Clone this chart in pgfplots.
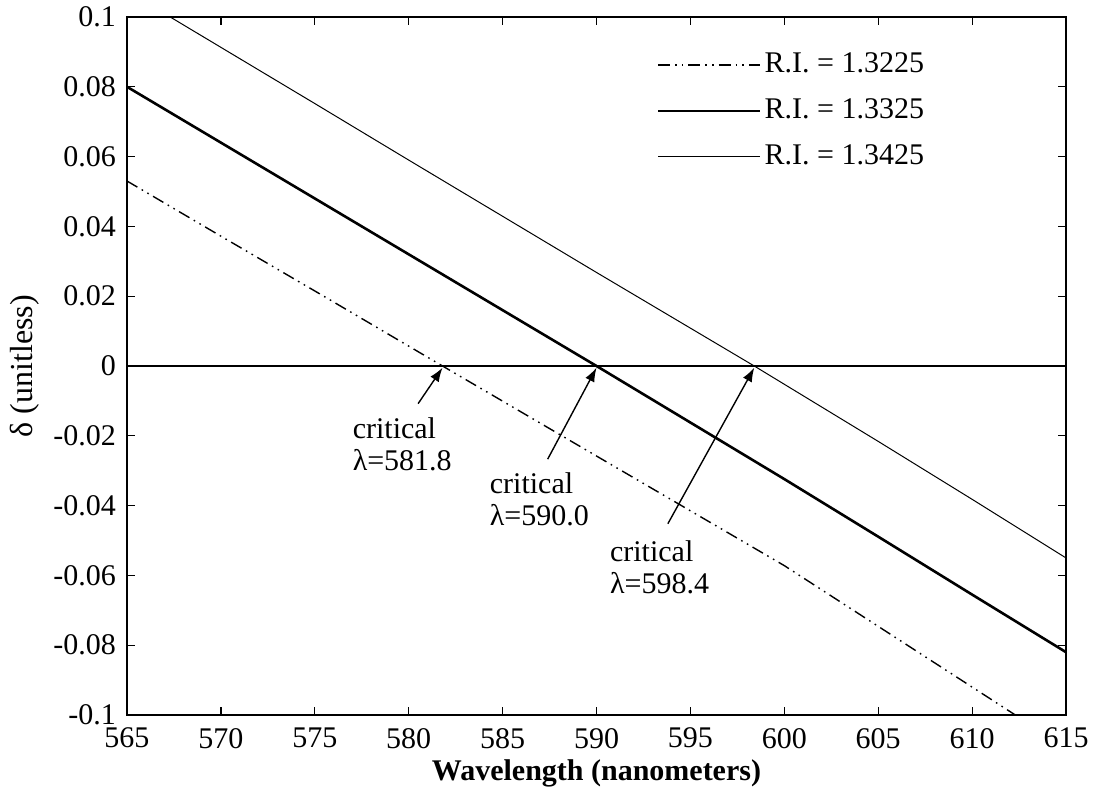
\documentclass[border=0pt]{standalone}
\usepackage{pgfplots}
\pgfplotsset{compat=1.18}
\usepackage{fontspec}
\setmainfont{Liberation Serif}
\usetikzlibrary{arrows.meta}

\begin{document}
\begin{tikzpicture}
\begin{axis}[
    scale only axis,
    width=469.5pt, height=349pt,
    xmin=565, xmax=615,
    ymin=-0.1, ymax=0.1,
    xtick={565,570,...,615},
    ytick={-0.1,-0.08,-0.06,-0.04,-0.02,0,0.02,0.04,0.06,0.08,0.1},
    yticklabels={-0.1,-0.08,-0.06,-0.04,-0.02,0,0.02,0.04,0.06,0.08,0.1},
    /pgf/number format/assume math mode=true,
    tick align=inside,
    tick style={black, line width=0.6pt},
    major tick length=4pt,
    axis line style={line width=0.9pt},
    tick label style={font=\fontsize{15}{17}\selectfont},
    xticklabel style={yshift=-3pt},
    yticklabel style={xshift=-2pt},
    xlabel={\textbf{Wavelength (nanometers)}},
    ylabel={δ (unitless)},
    xlabel style={font=\fontsize{15}{17}\selectfont, yshift=1pt},
    ylabel style={font=\fontsize{16}{18}\selectfont, yshift=0pt},
    legend style={draw=none, fill=none, at={(rel axis cs:0.564,0.952)}, anchor=north west,
                  font=\fontsize{15}{17}\selectfont, row sep=9pt,
                  inner sep=0pt, nodes={inner xsep=1.5pt, inner ysep=0pt, text height=11pt, text depth=3pt}},
    legend cell align=left,
    legend image code/.code={\draw[#1] (0pt,0pt) -- (51pt,0pt);},
]
\addplot[black, line width=0.7pt,
  dash pattern=on 6pt off 2.5pt on 0.8pt off 2.5pt on 0.8pt off 2.5pt] coordinates {
    (565,0.053) (570,0.0372) (575,0.0215) (581.8,0) (590,-0.0258) (600,-0.0572) (612.3,-0.1)
};
\addlegendentry{R.I. = 1.3225}
\addplot[black, line width=1.3pt] coordinates {
    (565,0.080) (570,0.0640) (575,0.0480) (580,0.0320) (585,0.0160) (590,0)
    (595,-0.0162) (600,-0.0324) (605,-0.0489) (610,-0.0655) (615,-0.082)
};
\addlegendentry{R.I. = 1.3325}
\addplot[black, line width=0.5pt] coordinates {
    (567.3,0.1) (575,0.0752) (580,0.0590) (585,0.0429) (590,0.0268) (598.4,0)
    (605,-0.0216) (610,-0.0382) (615,-0.055)
};
\addlegendentry{R.I. = 1.3425}
\addplot[black, line width=1.1pt, forget plot] coordinates {(565,0) (615,0)};

\draw[line width=0.7pt, -{Latex[length=7pt,width=5pt]}] (axis cs:580.5,-0.0108) -- (axis cs:581.8,-0.0005);
\draw[line width=0.7pt, -{Latex[length=7pt,width=5pt]}] (axis cs:587.4,-0.0267) -- (axis cs:590.0,-0.0005);
\draw[line width=0.7pt, -{Latex[length=7pt,width=5pt]}] (axis cs:593.8,-0.0452) -- (axis cs:598.4,-0.0005);

\node[anchor=west, inner sep=0pt, align=left, font=\fontsize{15}{16}\selectfont] at (axis cs:577.0,-0.0224) {critical\\λ=581.8};
\node[anchor=west, inner sep=0pt, align=left, font=\fontsize{15}{16}\selectfont] at (axis cs:584.3,-0.0381) {critical\\λ=590.0};
\node[anchor=west, inner sep=0pt, align=left, font=\fontsize{15}{16}\selectfont] at (axis cs:590.7,-0.0577) {critical\\λ=598.4};
\end{axis}
\path ([xshift=-63.5pt,yshift=-40.5pt]current axis.south west) rectangle ([xshift=15pt,yshift=8.5pt]current axis.north east);
\end{tikzpicture}
\end{document}
